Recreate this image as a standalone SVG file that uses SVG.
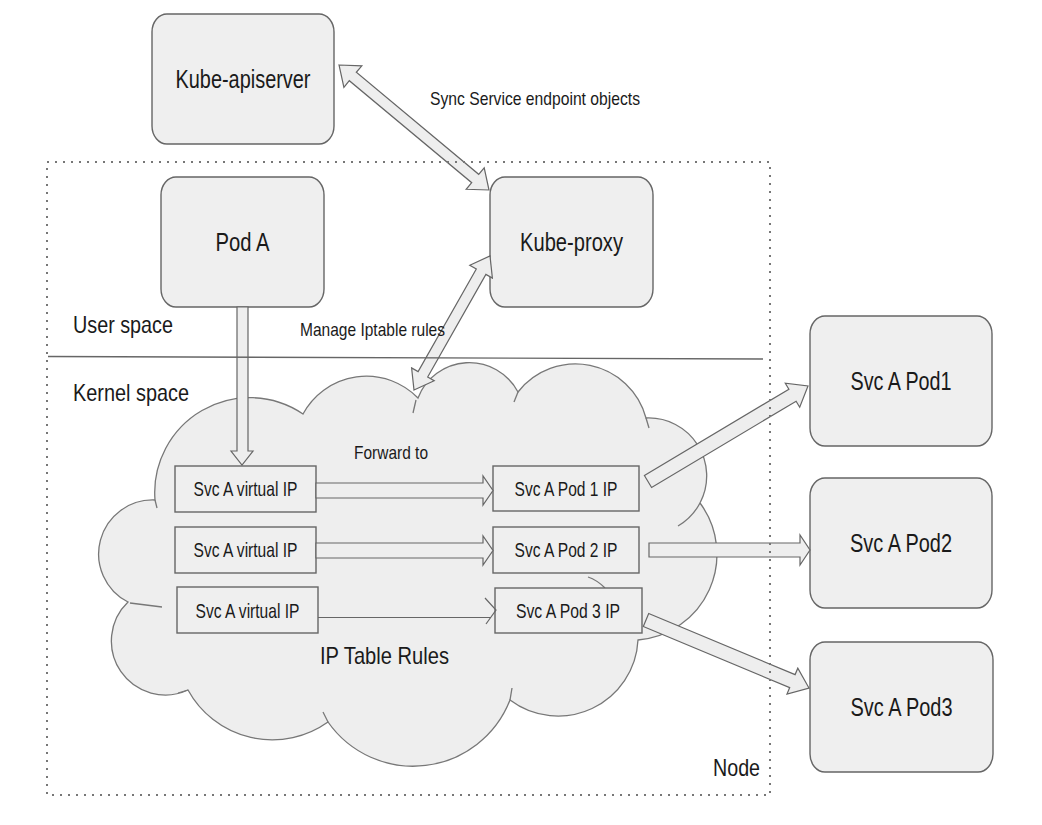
<svg xmlns="http://www.w3.org/2000/svg" width="1042" height="825" viewBox="0 0 1042 825">
<style>
.box{fill:#efefef;stroke:#666;stroke-width:1.4}
.ibox{fill:#efefef;stroke:#666;stroke-width:1.4}
.arrow{fill:#eeeeee;stroke:#666;stroke-width:1.2;stroke-linejoin:miter}
.cloud{fill:#eeeeee;stroke:#777;stroke-width:1.3}
.stub{fill:none;stroke:#777;stroke-width:1.3}
.t{font-family:"Liberation Sans",Arial,sans-serif;fill:#1a1a1a}
.big{font-size:26px}
.mid{font-size:24px}
.sm{font-size:19px}
.ib{font-size:21px}
</style>
<rect width="1042" height="825" fill="#ffffff"/>

<g id="cloud-ip-table-rules">
<path class="cloud" d="M155,500 A95,95 0 0 1 303,414 A72,72 0 0 1 418,398 A55,55 0 0 1 518,392 A73,73 0 0 1 646,418 A58,58 0 0 1 700,503 A86,86 0 0 1 638,640 A80,80 0 0 1 510,700 A104,104 0 0 1 328,722 A96,96 0 0 1 188,690 A54,54 0 0 1 128,602 A54,54 0 0 1 155,500 Z"/>
<path class="stub" d="M700,503 A58,58 0 0 1 678,526"/>
<path class="stub" d="M130,603 Q146,605 162,607"/>
<path class="stub" d="M416,400 L413,413"/>
<path class="stub" d="M518,392 Q516,397 514,402"/>
<path class="stub" d="M646,418 L649,428"/>
<path class="stub" d="M510,700 L512,688"/>
<path class="stub" d="M328,722 L323,712"/>
<path class="stub" d="M188,690 L178,693"/>
<path class="stub" d="M155,500 L157,508"/>
<path class="stub" d="M588,577 Q597,580 605,588"/>
<text class="t mid" x="384.5" y="664" text-anchor="middle" textLength="129" lengthAdjust="spacingAndGlyphs">IP Table Rules</text>
</g>

<g id="node-kube-apiserver">
<rect class="box" x="152" y="14" width="182" height="130" rx="15" ry="18"/>
<text class="t big" x="243" y="88" text-anchor="middle" textLength="135" lengthAdjust="spacingAndGlyphs">Kube-apiserver</text>
</g>

<g id="node-pod-a">
<rect class="box" x="161" y="177" width="163" height="130" rx="15" ry="18"/>
<text class="t big" x="242.5" y="251" text-anchor="middle" textLength="54" lengthAdjust="spacingAndGlyphs">Pod A</text>
</g>

<g id="node-kube-proxy">
<rect class="box" x="490" y="177" width="163" height="130" rx="15" ry="18"/>
<text class="t big" x="571.5" y="251" text-anchor="middle" textLength="103" lengthAdjust="spacingAndGlyphs">Kube-proxy</text>
</g>

<g id="node-svc-a-pod1">
<rect class="box" x="810" y="316" width="182" height="130" rx="15" ry="18"/>
<text class="t big" x="901" y="390" text-anchor="middle" textLength="101" lengthAdjust="spacingAndGlyphs">Svc A Pod1</text>
</g>

<g id="node-svc-a-pod2">
<rect class="box" x="810" y="478" width="182" height="130" rx="15" ry="18"/>
<text class="t big" x="901" y="552" text-anchor="middle" textLength="102" lengthAdjust="spacingAndGlyphs">Svc A Pod2</text>
</g>

<g id="node-svc-a-pod3">
<rect class="box" x="810" y="642" width="183" height="130" rx="15" ry="18"/>
<text class="t big" x="901.5" y="716" text-anchor="middle" textLength="102" lengthAdjust="spacingAndGlyphs">Svc A Pod3</text>
</g>

<g id="node-vip-1">
<rect class="ibox" x="175" y="466" width="141" height="46"/>
<text class="t ib" x="245.5" y="496" text-anchor="middle" textLength="104" lengthAdjust="spacingAndGlyphs">Svc A virtual IP</text>
</g>
<g id="node-vip-2">
<rect class="ibox" x="175" y="527" width="141" height="46"/>
<text class="t ib" x="245.5" y="557" text-anchor="middle" textLength="104" lengthAdjust="spacingAndGlyphs">Svc A virtual IP</text>
</g>
<g id="node-vip-3">
<rect class="ibox" x="177" y="587" width="141" height="46"/>
<text class="t ib" x="247.5" y="618" text-anchor="middle" textLength="104" lengthAdjust="spacingAndGlyphs">Svc A virtual IP</text>
</g>

<g id="node-pod1-ip">
<rect class="ibox" x="493" y="466" width="146" height="45"/>
<text class="t ib" x="566" y="496" text-anchor="middle" textLength="103" lengthAdjust="spacingAndGlyphs">Svc A Pod 1 IP</text>
</g>
<g id="node-pod2-ip">
<rect class="ibox" x="493" y="527" width="146" height="46"/>
<text class="t ib" x="566" y="557" text-anchor="middle" textLength="103" lengthAdjust="spacingAndGlyphs">Svc A Pod 2 IP</text>
</g>
<g id="node-pod3-ip">
<rect class="ibox" x="495" y="588" width="147" height="45"/>
<text class="t ib" x="568" y="618" text-anchor="middle" textLength="104" lengthAdjust="spacingAndGlyphs">Svc A Pod 3 IP</text>
</g>

<g id="connectors">
<polygon class="arrow" points="339,65 361.8,65.8 356.3,72.3 478.7,174.3 484.2,167.8 489,190 466.2,189.3 471.7,182.7 349.3,80.7 343.9,87.3"/>
<polygon class="arrow" points="414,390 434.2,380.8 427.7,377 485.9,274.4 492.4,278.1 490,256 469.8,265.3 476.3,269 418.1,371.6 411.6,367.9"/>
<polygon class="arrow" points="237,307 248,307 248,451 253,451 242,465 231,451 237,451"/>
<polygon class="arrow" points="316,483 483,483 483,476 493,490.5 483,505 483,498 316,498"/>
<polygon class="arrow" points="316,543 483,543 483,536 493,550.5 483,565 483,558 316,558"/>
<path fill="none" stroke="#666" stroke-width="1.2" d="M318,617.5 H491 M485,598 L496,610 L486,624"/>
<polygon class="arrow" points="644.4,475.5 788.9,389.2 785.3,383.2 808,386 799.7,407.2 796.1,401.2 651.6,487.5"/>
<polygon class="arrow" points="649,543 800,543 800,535 810,550 800,565 800,557 649,557"/>
<polygon class="arrow" points="648.7,613.5 795.1,674.6 797.8,668.2 809,688 787,694 789.7,687.6 643.3,626.5"/>
</g>

<g id="labels">
<text class="t sm" x="430" y="105" textLength="210" lengthAdjust="spacingAndGlyphs">Sync Service endpoint objects</text>
<text class="t sm" x="300" y="336" textLength="145" lengthAdjust="spacingAndGlyphs">Manage Iptable rules</text>
<text class="t sm" x="354" y="459" textLength="74" lengthAdjust="spacingAndGlyphs">Forward to</text>
<text class="t mid" x="73" y="333" textLength="100" lengthAdjust="spacingAndGlyphs">User space</text>
<text class="t mid" x="73" y="401" textLength="116" lengthAdjust="spacingAndGlyphs">Kernel space</text>
</g>

<g id="node-boundary">
<line x1="48" y1="356.5" x2="763" y2="359" stroke="#666" stroke-width="1.4"/>
<rect x="47" y="162" width="723" height="633" fill="none" stroke="#777" stroke-width="2" stroke-dasharray="2 6"/>
<text class="t mid" x="713" y="776" textLength="47" lengthAdjust="spacingAndGlyphs">Node</text>
</g>
</svg>
